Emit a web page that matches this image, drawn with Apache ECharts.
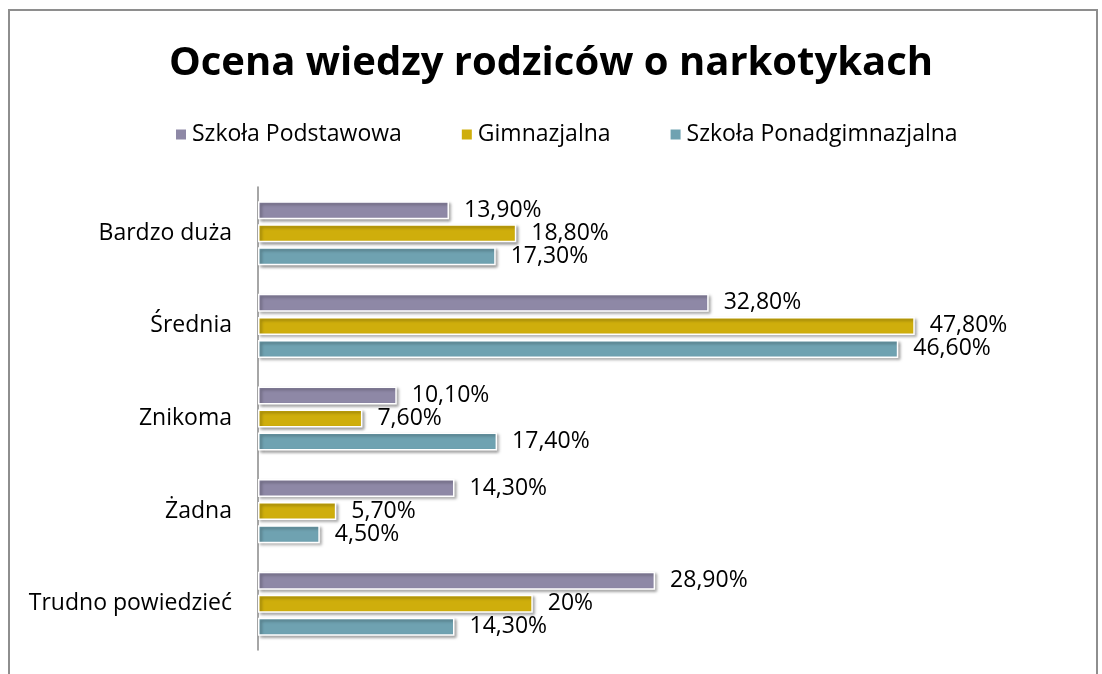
<!DOCTYPE html>
<html>
<head>
<meta charset="utf-8">
<script src="https://cdn.jsdelivr.net/npm/echarts@6/dist/echarts.min.js"></script>
<style>
	html,body{margin:0;padding:0;background:#fff;overflow:hidden;}
	#frame{position:absolute;left:8px;top:9px;width:1090px;height:720px;border:2px solid #8e8e8e;box-sizing:border-box;}
	#container{position:absolute;left:0;top:0;width:1102px;height:674px;}
</style>
</head>
<body>
<div id="frame"></div>
<div id="container"></div>
<script>
var categories = ['Bardzo duża','Średnia','Znikoma','Żadna','Trudno powiedzieć'];
var seriesNames = ['Szkoła Podstawowa','Gimnazjalna','Szkoła Ponadgimnazjalna'];
var podstawowa = [13.9, 32.8, 10.1, 14.3, 28.9];
var gimnazjalna = [18.8, 47.8, 7.6, 5.7, 20];
var ponadgimnazjalna = [17.3, 46.6, 17.4, 4.5, 14.3];
var colors = ['#8e88a6','#cfae0c','#6fa2b1'];

function fmt(p){
	var v = p.value;
	if(v==Math.round(v)) return v+'%';
	return v.toFixed(2).replace('.',',')+'%';
}

function makeSeries(name,data,color){
	return {
		name:name,
		type:'bar',
		data:data,
		barWidth:18,
		barGap:'28%',
		itemStyle:{
			color:color,
			borderColor:'#ffffff',
			borderWidth:1.5,
			shadowColor:'rgba(0,0,0,0.35)',
			shadowBlur:3,
			shadowOffsetX:2,
			shadowOffsetY:2
		},
		label:{
			show:true,
			position:'right',
			distance:15,
			color:'#000',
			fontSize:23,
			fontFamily:'Open Sans',
			formatter:fmt
		}
	};
}

var myChart = echarts.init(document.getElementById('container'));
var option = {
	animation:false,
	textStyle:{fontFamily:'Open Sans'},
	title:{
		text:'Ocena wiedzy rodziców o narkotykach',
		left:'center',
		top:39,
		textStyle:{fontSize:40,fontWeight:'bold',color:'#000',fontFamily:'Open Sans'}
	},
	legend:{
		data:seriesNames,
		top:118,
		left:169,
		itemWidth:12,
		itemHeight:12,
		itemGap:58,
		icon:'rect',
		textStyle:{fontSize:23,color:'#000',fontFamily:'Open Sans'}
	},
	grid:{left:258,top:187,width:687,bottom:24},
	xAxis:{
		type:'value',
		min:0,
		max:50,
		show:false
	},
	yAxis:{
		type:'category',
		data:categories,
		inverse:true,
		axisLine:{show:true,lineStyle:{color:'#888',width:1.5}},
		axisTick:{show:false},
		axisLabel:{fontSize:23,color:'#000',margin:26,fontFamily:'Open Sans'}
	},
	series:[
		makeSeries(seriesNames[0],podstawowa,colors[0]),
		makeSeries(seriesNames[1],gimnazjalna,colors[1]),
		makeSeries(seriesNames[2],ponadgimnazjalna,colors[2])
	]
};
myChart.setOption(option);
</script>
</body>
</html>
